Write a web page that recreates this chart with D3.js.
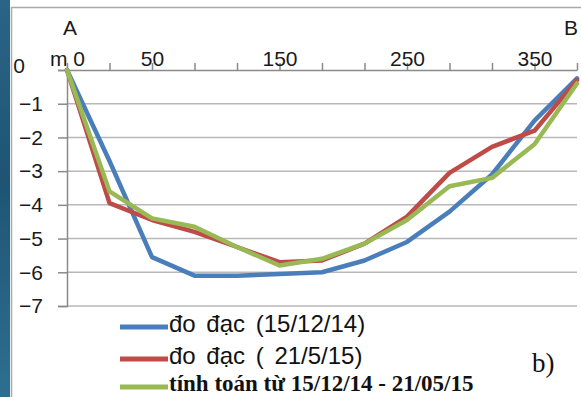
<!DOCTYPE html>
<html>
<head>
<meta charset="utf-8">
<script src="https://cdn.jsdelivr.net/npm/d3@7"></script>
<style>
    html, body { margin: 0; padding: 0; background: #fff; }
    svg { display: block; }
</style>
</head>
<body>
<div id="chart"></div>
<script>
// point index along the cross-section, labels only on some of them
const xLabels = ["m 0", "", "50", "", "", "150", "", "", "250", "", "", "350", ""];
const yTicks = [0, -1, -2, -3, -4, -5, -6, -7];

const seriesNames = ["đo đạc (15/12/14)", "đo đạc ( 21/5/15)", "tính toán từ 15/12/14 - 21/05/15"];
const measured1 = [0, -2.7, -5.55, -6.1, -6.1, -6.05, -6.0, -5.65, -5.1, -4.2, -3.1, -1.5, -0.25];
const measured2 = [0, -3.95, -4.45, -4.8, -5.25, -5.7, -5.65, -5.15, -4.35, -3.05, -2.28, -1.8, -0.3];
const computed = [0, -3.6, -4.4, -4.65, -5.25, -5.8, -5.6, -5.15, -4.45, -3.45, -3.2, -2.2, -0.4];

(function () {
    const W = 581, H = 397;
    const plot = { left: 67, right: 577, top: 70, bottom: 306 };
    const colors = ["#4a7ebb", "#be4b48", "#98b954"];
    const series = [measured1, measured2, computed];
    const sans = "'Liberation Sans', Arial, sans-serif";
    const serif = "'Liberation Serif', 'Times New Roman', serif";

    const svg = d3.select("#chart")
        .append("svg")
        .attr("width", W)
        .attr("height", H);

    const grad = svg.append("defs").append("linearGradient")
        .attr("id", "strip")
        .attr("x1", 0).attr("y1", 0).attr("x2", 0).attr("y2", 1);
    grad.append("stop").attr("offset", "0%").attr("stop-color", "#2a6586");
    grad.append("stop").attr("offset", "45%").attr("stop-color", "#1f5473");
    grad.append("stop").attr("offset", "100%").attr("stop-color", "#2e6f90");

    svg.append("rect")
        .attr("width", W).attr("height", H)
        .attr("fill", "#fff");

    // dark strip on the left edge + panel border
    svg.append("rect")
        .attr("x", 0).attr("y", 0)
        .attr("width", 10).attr("height", H)
        .attr("fill", "url(#strip)");

    svg.append("path")
        .attr("d", `M11.5,${H} V7.5 H${W}`)
        .attr("fill", "none")
        .attr("stroke", "#a9a9a9")
        .attr("stroke-width", 1.5);

    const x = d3.scalePoint()
        .domain(d3.range(xLabels.length))
        .range([plot.left, plot.right]);

    const y = d3.scaleLinear()
        .domain([-7, 0])
        .range([plot.bottom, plot.top]);

    // gridlines
    svg.append("g")
        .selectAll("line")
        .data(yTicks.filter(d => d !== 0))
        .join("line")
        .attr("x1", plot.left)
        .attr("x2", plot.right)
        .attr("y1", d => y(d))
        .attr("y2", d => y(d))
        .attr("stroke", "#b8b8b8")
        .attr("stroke-width", 1.5);

    // y axis
    const yAxis = svg.append("g")
        .attr("transform", `translate(${plot.left},0)`)
        .call(d3.axisLeft(y).tickValues(yTicks).tickSize(9).tickFormat(d3.format("d")));
    yAxis.select(".domain").attr("stroke", "#8a8a8a").attr("stroke-width", 1.5);
    yAxis.selectAll(".tick line").attr("stroke", "#8a8a8a").attr("stroke-width", 1.5);
    yAxis.selectAll(".tick text")
        .attr("x", -24)
        .style("font-family", sans)
        .style("font-size", "21px")
        .attr("fill", "#1a1a1a")
        .filter(d => d === 0)
        .attr("x", -42)
        .attr("dy", "0.1em");

    // x axis on top (zero line)
    const xAxis = svg.append("g")
        .attr("transform", `translate(0,${y(0)})`)
        .call(d3.axisTop(x).tickSize(7).tickSizeOuter(0).tickFormat(i => xLabels[i]));
    xAxis.select(".domain").attr("stroke", "#8a8a8a").attr("stroke-width", 1.5);
    xAxis.selectAll(".tick line").attr("stroke", "#8a8a8a").attr("stroke-width", 1.5);
    xAxis.selectAll(".tick text")
        .attr("y", -4)
        .style("font-family", sans)
        .style("font-size", "21px")
        .attr("fill", "#1a1a1a");

    // section ends
    svg.append("text")
        .attr("x", 70).attr("y", 35)
        .attr("text-anchor", "middle")
        .style("font-family", sans)
        .style("font-size", "21px")
        .attr("fill", "#1a1a1a")
        .text("A");
    svg.append("text")
        .attr("x", 578).attr("y", 35)
        .attr("text-anchor", "end")
        .style("font-family", sans)
        .style("font-size", "21px")
        .attr("fill", "#1a1a1a")
        .text("B");

    const line = d3.line()
        .x((d, i) => x(i))
        .y(d => y(d));

    svg.append("g")
        .selectAll("path")
        .data(series)
        .join("path")
        .attr("d", line)
        .attr("fill", "none")
        .attr("stroke", (d, i) => colors[i])
        .attr("stroke-width", 4.5)
        .attr("stroke-linejoin", "round")
        .attr("stroke-linecap", "round");

    // legend
    const legendY = [327, 359, 387];
    const textY = [332, 364, 391];
    const legend = svg.append("g");
    legend.selectAll("line")
        .data(seriesNames)
        .join("line")
        .attr("x1", 120).attr("x2", 168)
        .attr("y1", (d, i) => legendY[i])
        .attr("y2", (d, i) => legendY[i])
        .attr("stroke", (d, i) => colors[i])
        .attr("stroke-width", 5);

    legend.selectAll("text")
        .data(seriesNames)
        .join("text")
        .attr("x", 169)
        .attr("y", (d, i) => textY[i])
        .style("font-family", (d, i) => i === 2 ? serif : sans)
        .style("font-size", (d, i) => i === 2 ? "23px" : "24px")
        .style("font-weight", (d, i) => i === 2 ? "bold" : "normal")
        .style("word-spacing", (d, i) => i === 2 ? "0px" : "4px")
        .attr("fill", "#111")
        .text(d => d);

    svg.append("text")
        .attr("x", 532).attr("y", 372)
        .style("font-family", serif)
        .style("font-size", "27px")
        .attr("fill", "#111")
        .text("b)");
})();
</script>
</body>
</html>
